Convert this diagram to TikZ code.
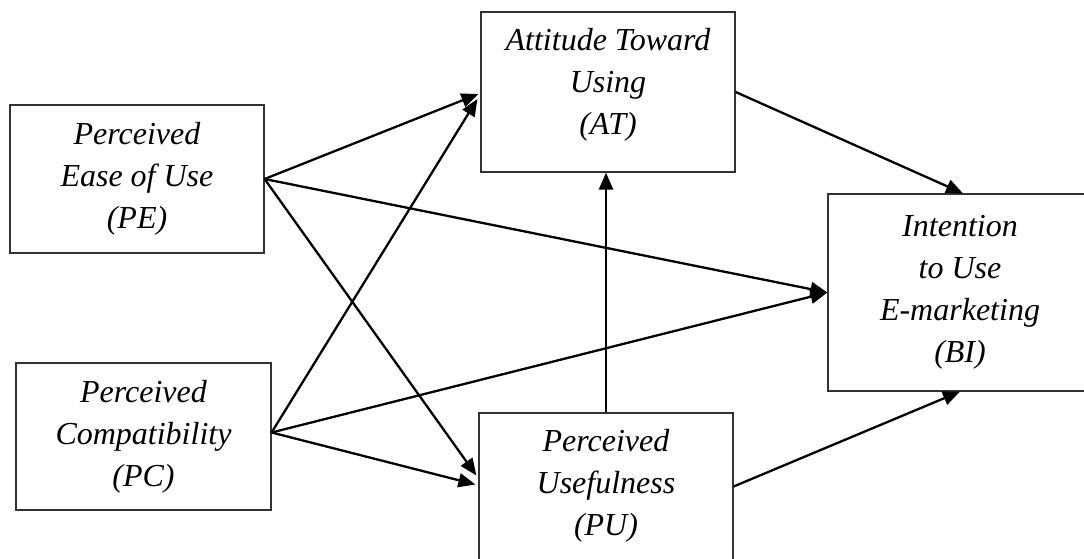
\documentclass[tikz,border=0pt]{standalone}
\usepackage{fontspec}
\setmainfont{Liberation Serif}
\usetikzlibrary{arrows.meta}
\begin{document}
\begin{tikzpicture}[x=1pt,y=1pt,
  box/.style={draw=black!80,line width=1.2pt,fill=white,inner sep=0pt},
  lbl/.style={align=center,font=\fontsize{32}{42}\selectfont\itshape,inner sep=0pt},
  arr/.style={line width=2.3pt,-{Triangle[length=17pt,width=14pt]}}]
\useasboundingbox (0,0) rectangle (1084,559);
\node[box,minimum width=254pt,minimum height=148pt] (pe) at (137,380) {};
\node[box,minimum width=255pt,minimum height=147pt] (pc) at (143.5,122.5) {};
\node[box,minimum width=254pt,minimum height=160pt] (at) at (608,467) {};
\node[box,minimum width=264pt,minimum height=197pt] (bi) at (960,266.5) {};
\node[box,minimum width=254pt,minimum height=157pt] (pu) at (606,67.5) {};
\node[lbl] (tpe) at (pe.center) {Perceived\\Ease of Use\\(PE)};
\node[lbl] (tpc) at (pc.center) {Perceived\\Compatibility\\(PC)};
\node[lbl] (tat) at ([yshift=7pt]at.center) {Attitude Toward\\Using\\(AT)};
\node[lbl] (tbi) at (bi.center) {Intention\\to Use\\E-marketing\\(BI)};
\node[lbl] (tpu) at ([yshift=6pt]pu.center) {Perceived\\Usefulness\\(PU)};
\coordinate (pcs) at ([yshift=4pt]pc.east);
\draw[arr] (pe.east) -- ([xshift=-2pt,yshift=-2pt]at.west);
\draw[arr] (pe.east) -- (bi.west);
\draw[arr] (pe.east) -- ([xshift=-2pt,yshift=16pt]pu.west);
\draw[arr] (pcs) -- ([xshift=-3pt,yshift=-7pt]at.west);
\draw[arr] (pcs) -- (bi.west);
\draw[arr] (pcs) -- ([xshift=-3pt,yshift=7pt]pu.west);
\draw[arr] (pu.north) -- (pu.north |- at.south);
\draw[arr] (at.east) -- ([xshift=3pt]bi.north);
\draw[arr] ([yshift=5pt]pu.east) -- (bi.south);
\end{tikzpicture}
\end{document}
